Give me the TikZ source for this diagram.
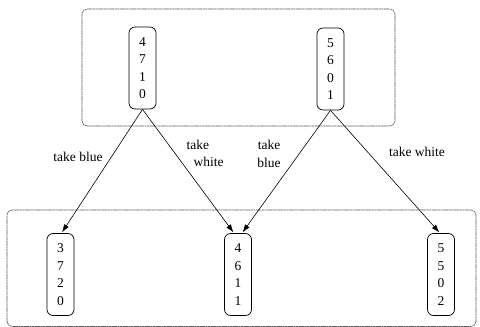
\documentclass[tikz,border=0pt]{standalone}
\usepackage{fontspec}
\setmainfont{Liberation Serif}
\usetikzlibrary{arrows.meta}
\begin{document}
\begin{tikzpicture}[x=1pt,y=-1pt,
  every node/.style={font=\fontsize{13.5}{17.5}\selectfont},
  group/.style={draw, dash pattern=on 0.5pt off 0.6pt, rounded corners=5pt, line width=0.6pt, inner sep=0pt},
  state/.style={draw, rounded corners=6pt, line width=0.7pt, minimum width=27pt, minimum height=82pt, inner sep=0pt, align=center},
  edge/.style={-{Latex[length=8pt,width=5.5pt]}, line width=0.6pt, shorten >=1pt},
  lbl/.style={inner sep=0pt, align=center}]
\useasboundingbox (0,0) rectangle (480,327);
\node[group, minimum width=313pt, minimum height=117pt] (topbox) at (238.5,67.5) {};
\node[group, minimum width=469pt, minimum height=116.5pt] (botbox) at (241.5,268.2) {};
\node[state] (a) at (142.5,68) {4\\7\\1\\0};
\node[state] (b) at (330.5,69) {5\\6\\0\\1};
\node[state] (c) at (60.5,274.5) {3\\7\\2\\0};
\node[state] (d) at (238,274.5) {4\\6\\1\\1};
\node[state] (e) at (441,274.5) {5\\5\\0\\2};
\draw[edge] (a.south) -- ([xshift=1pt]c.north);
\draw[edge] (a.south) -- ([xshift=-4pt]d.north);
\draw[edge] (b.south) -- ([xshift=4pt]d.north);
\draw[edge] (b.south) -- ([xshift=-1pt]e.north);
\node[lbl] (l1) at (78,157) {take blue};
\node[lbl, align=left] (l2) at (205,153.5) {take\\\hspace{7pt}white};
\node[lbl] (l3) at (269,154) {take\\blue};
\node[lbl] (l4) at (417,151.5) {take white};
\end{tikzpicture}
\end{document}
